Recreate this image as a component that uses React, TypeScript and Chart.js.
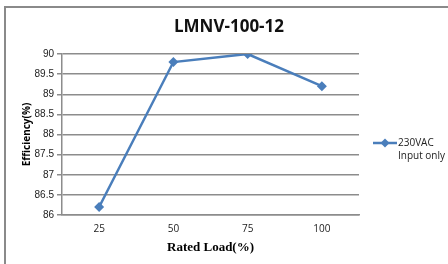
import React, { useEffect, useRef } from "react";
import { Chart, registerables } from "chart.js";

Chart.register(...registerables);

const title = "LMNV-100-12";
const categories = ["25", "50", "75", "100"];
const seriesName = ["230VAC", "Input only"];
const efficiency = [86.2, 89.8, 90.0, 89.2];
const yTitle = "Efficiency(%)";
const xTitle = "Rated Load(%)";

const LINE = "#4a7ebb";
const GRID = "#8c8c8c";

const framePlugin = {
  id: "frame",
  beforeDraw(chart: any) {
    const ctx = chart.ctx;
    ctx.save();
    ctx.fillStyle = "#ffffff";
    ctx.fillRect(0, 0, chart.width, chart.height);
    ctx.strokeStyle = "#8a8a8a";
    ctx.lineWidth = 2;
    ctx.beginPath();
    ctx.moveTo(5, chart.height);
    ctx.lineTo(5, 7);
    ctx.lineTo(chart.width, 7);
    ctx.stroke();
    ctx.restore();
  },
};

const titlePlugin = {
  id: "customTitle",
  afterDraw(chart: any) {
    const ctx = chart.ctx;
    ctx.save();
    ctx.fillStyle = "#111111";
    ctx.font = "bold 17px 'Open Sans', sans-serif";
    ctx.textAlign = "center";
    ctx.textBaseline = "middle";
    ctx.fillText(title, 229, 27);
    ctx.restore();
  },
};

const legendPlugin = {
  id: "customLegend",
  afterDraw(chart: any) {
    const ctx = chart.ctx;
    const x0 = chart.chartArea.right + 14;
    const y0 = 143;
    ctx.save();
    ctx.strokeStyle = LINE;
    ctx.lineWidth = 2.5;
    ctx.beginPath();
    ctx.moveTo(x0, y0);
    ctx.lineTo(x0 + 24, y0);
    ctx.stroke();
    ctx.fillStyle = LINE;
    const r = 4.5;
    const cx = x0 + 12;
    ctx.beginPath();
    ctx.moveTo(cx, y0 - r);
    ctx.lineTo(cx + r, y0);
    ctx.lineTo(cx, y0 + r);
    ctx.lineTo(cx - r, y0);
    ctx.closePath();
    ctx.fill();
    ctx.fillStyle = "#222222";
    ctx.font = "10px 'Open Sans', sans-serif";
    ctx.textBaseline = "middle";
    ctx.textAlign = "left";
    ctx.fillText(seriesName[0], x0 + 25, y0);
    ctx.fillText(seriesName[1], x0 + 25, y0 + 13);
    ctx.restore();
  },
};

export default function App() {
  const ref = useRef<HTMLCanvasElement>(null);
  useEffect(() => {
    document.body.style.margin = "0";
    const chart = new Chart(ref.current!, {
      type: "line",
      data: {
        labels: categories,
        datasets: [
          {
            label: seriesName.join(" "),
            data: efficiency,
            borderColor: LINE,
            backgroundColor: LINE,
            borderWidth: 2.5,
            pointStyle: "rectRot",
            pointRadius: 5,
            pointBackgroundColor: LINE,
            pointBorderColor: LINE,
            pointBorderWidth: 0,
            tension: 0,
          },
        ],
      },
      options: {
        responsive: false,
        animation: false,
        layout: { padding: { left: 21, right: 89, top: 54, bottom: 0 } },
        plugins: {
          legend: { display: false },
          tooltip: { enabled: false },
          title: { display: false },
        },
        scales: {
          x: {
            type: "category",
            offset: true,
            grid: { display: false, drawTicks: false },
            border: { display: true, color: GRID, width: 1.5 },
            ticks: {
              color: "#222222",
              font: { family: "'Open Sans', sans-serif", size: 10 },
              padding: 8,
            },
            title: {
              display: true,
              text: xTitle,
              color: "#000000",
              font: { family: "'Liberation Serif', serif", size: 13, weight: "bold" },
              padding: { top: 3, bottom: 9 },
            },
            afterFit(scale: any) {
              scale.height = 49;
            },
          },
          y: {
            min: 86,
            max: 90,
            grid: { color: GRID, lineWidth: 1.5, tickLength: 5, drawTicks: true },
            border: { display: true, color: GRID, width: 1.5 },
            ticks: {
              stepSize: 0.5,
              color: "#222222",
              font: { family: "'Liberation Sans', sans-serif", size: 10 },
              padding: 3,
              callback: (v: any) => String(Number(v)),
            },
            title: {
              display: true,
              text: yTitle,
              color: "#000000",
              font: { family: "'Open Sans', sans-serif", size: 10, weight: "bold" },
              padding: { top: 0, bottom: 2 },
            },
            afterFit(scale: any) {
              scale.width = 41;
            },
          },
        },
      },
      plugins: [framePlugin, legendPlugin, titlePlugin],
    });
    return () => chart.destroy();
  }, []);
  return (
    <div style={{ width: 448, height: 264 }}>
      <canvas ref={ref} width={448} height={264} />
    </div>
  );
}
